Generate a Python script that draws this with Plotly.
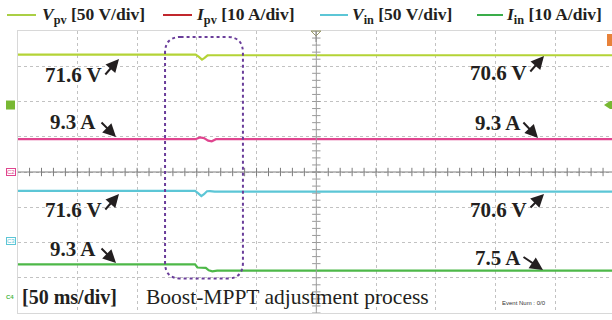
import numpy as np
import plotly.graph_objects as go

# ---------------- data (time in ms, physical values) ----------------
t_vpv = [0, 149, 151.5, 154.3, 156.5, 159, 161, 500]
v_pv = [71.6, 71.6, 68.5, 64.5, 67.0, 70.4, 70.6, 70.6]

t_ipv = [0, 149, 152.5, 156, 159.5, 162.5, 166, 500]
i_pv = [9.3, 9.3, 9.8, 9.6, 8.9, 8.7, 9.3, 9.3]

t_vin = [0, 148.5, 151, 153.8, 156, 158.5, 161, 165, 500]
v_in = [71.6, 71.6, 68.5, 64.3, 67.0, 71.2, 71.4, 70.6, 70.6]

t_iin = [0, 148.5, 150.5, 157.5, 160, 163, 167, 500]
i_in = [9.3, 9.3, 8.4, 8.3, 7.6, 7.3, 7.5, 7.5]

channel_names = ["V<sub>pv</sub>", "I<sub>pv</sub>", "V<sub>in</sub>", "I<sub>in</sub>"]
channel_units = ["[50 V/div]", "[10 A/div]", "[50 V/div]", "[10 A/div]"]
channel_scale = [50, 10, 50, 10]
channel_ground = [1.9, 0.0, -1.97, -3.55]          # divisions

label_texts = ["71.6 V", "9.3 A", "71.6 V", "9.3 A", "70.6 V", "9.3 A", "70.6 V", "7.5 A"]
time_label = "[50 ms/div]"
process_label = "Boost-MPPT adjustment process"

# ---------------- geometry / style ----------------
W, H = 612, 320
X0, DIVX = 17.6, 59.74
Y_TOP, Y_BOT = 31, 313
x_end = (W - X0) / DIVX * 50

trace_colors = ["#b4d336", "#e0458f", "#5cc6d6", "#4db848"]
legend_colors = ["#aacf45", "#c1272d", "#5cc6d6", "#3aad4a"]
SERIF = "Liberation Serif, Times New Roman, serif"


def px(x):
    return x / W


def py(y):
    return 1 - y / H


fig = go.Figure()

# ticks on center cross
tx = np.arange(0, x_end, 10)
fig.add_trace(go.Scatter(x=tx, y=[0] * len(tx), mode="markers", hoverinfo="skip",
                         marker=dict(symbol="line-ns", size=6, line=dict(width=1, color="#7c7c7c"))))
ty = np.arange(-4, 4.001, 0.2)
fig.add_trace(go.Scatter(x=[250] * len(ty), y=ty, mode="markers", hoverinfo="skip",
                         marker=dict(symbol="line-ew", size=6, line=dict(width=1, color="#9a9a9a"))))

series = [(t_vpv, v_pv), (t_ipv, i_pv), (t_vin, v_in), (t_iin, i_in)]
for k, (tt, vv) in enumerate(series):
    yy = [channel_ground[k] + v / channel_scale[k] for v in vv]
    fig.add_trace(go.Scatter(x=tt, y=yy, mode="lines", hoverinfo="skip",
                             line=dict(color=trace_colors[k], width=2.2)))

shapes = []
# center lines
shapes.append(dict(type="line", xref="x", yref="y", x0=0, x1=x_end, y0=0, y1=0,
                   line=dict(color="#7c7c7c", width=1)))
shapes.append(dict(type="line", xref="x", yref="y", x0=250, x1=250, y0=-4, y1=4,
                   line=dict(color="#a0a0a0", width=1)))

# dashed rounded box (process window)
bx0, bx1, by0, by1 = 123.4, 188.6, -3.02, 3.83
rx, ry = 13, 0.45
path = (f"M {bx0+rx},{by1} L {bx1-rx},{by1} Q {bx1},{by1} {bx1},{by1-ry} "
        f"L {bx1},{by0+ry} Q {bx1},{by0} {bx1-rx},{by0} L {bx0+rx},{by0} "
        f"Q {bx0},{by0} {bx0},{by0+ry} L {bx0},{by1-ry} Q {bx0},{by1} {bx0+rx},{by1} Z")
shapes.append(dict(type="path", xref="x", yref="y", path=path,
                   line=dict(color="#6a3d9a", width=2, dash="dot")))

# legend lines
legend_line_x = [(7, 36), (163, 192), (320, 348), (477, 503)]
legend_text_x = [40, 194, 350, 504]
for k in range(4):
    shapes.append(dict(type="line", xref="paper", yref="paper",
                       x0=px(legend_line_x[k][0]), x1=px(legend_line_x[k][1]),
                       y0=py(15), y1=py(15), line=dict(color=legend_colors[k], width=2)))

# trigger marker (top centre)
tm = 316
shapes.append(dict(type="path", xref="paper", yref="paper",
                   path=f"M {px(tm-5)},{py(31)} L {px(tm+5)},{py(31)} L {px(tm)},{py(36)} Z",
                   line=dict(color="#9a9a6a", width=1), fillcolor="rgba(0,0,0,0)"))
shapes.append(dict(type="line", xref="paper", yref="paper", x0=px(tm), x1=px(tm),
                   y0=py(31), y1=py(42), line=dict(color="#8a8a8a", width=1)))
# orange marker top right
shapes.append(dict(type="path", xref="paper", yref="paper",
                   path=f"M {px(607)},{py(34)} L {px(612)},{py(34)} L {px(612)},{py(46)} L {px(607)},{py(46)} Z",
                   line=dict(color="#e8823a", width=0), fillcolor="#e8823a"))
# green marker right (Vpv trigger level)
gy = 172 - channel_ground[0] * 35.25
shapes.append(dict(type="path", xref="paper", yref="paper",
                   path=f"M {px(604)},{py(gy)} L {px(610)},{py(gy-4)} L {px(612)},{py(gy-4)} L {px(612)},{py(gy+4)} L {px(610)},{py(gy+4)} Z",
                   line=dict(color="#78b833", width=0), fillcolor="#78b833"))
# green ground square left
shapes.append(dict(type="rect", xref="paper", yref="paper", x0=px(6), x1=px(15),
                   y0=py(gy - 4.5), y1=py(gy + 4.5), line=dict(color="#78b833", width=0),
                   fillcolor="#78b833"))

annotations = []
# legend texts
for k in range(4):
    nm = channel_names[k]
    annotations.append(dict(xref="paper", yref="paper", x=px(legend_text_x[k]), y=py(15),
                            xanchor="left", yanchor="middle", showarrow=False,
                            text=f"<b><i>{nm[0]}</i>{nm[1:]} {channel_units[k]}</b>",
                            font=dict(family=SERIF, size=17.5, color="#231f20")))

# channel ground markers
for k, lab in [(1, "C2"), (2, "C3")]:
    annotations.append(dict(xref="paper", yref="y", x=px(11), y=channel_ground[k],
                            xanchor="center", yanchor="middle", showarrow=False, text=lab,
                            font=dict(family="Liberation Sans", size=6, color=trace_colors[k]),
                            bordercolor=trace_colors[k], borderwidth=1, borderpad=0,
                            bgcolor="white"))
annotations.append(dict(xref="paper", yref="y", x=px(10), y=channel_ground[3],
                        xanchor="center", yanchor="middle", showarrow=False, text="<b>C4</b>",
                        font=dict(family="Liberation Sans", size=6, color=trace_colors[3])))

# value labels
label_pos = [(73, 75), (73, 122), (73, 210), (73, 249), (498, 73), (498, 123), (498, 210), (498, 258)]
for txt, (lx, ly) in zip(label_texts, label_pos):
    annotations.append(dict(xref="paper", yref="paper", x=px(lx), y=py(ly),
                            xanchor="center", yanchor="middle", showarrow=False,
                            text=f"<b>{txt}</b>",
                            font=dict(family=SERIF, size=21, color="#231f20")))

# arrows (tail -> head)
arrows = [((104, 76), (119, 59)), ((100, 121), (116, 137)), ((104, 211), (119, 194)),
          ((100, 247), (116, 263)), ((529, 73), (544, 56)), ((522, 121), (538, 138)),
          ((529, 209), (544, 194)), ((522, 256), (543, 270))]
for (tx0, ty0), (hx, hy) in arrows:
    annotations.append(dict(xref="paper", yref="paper", x=px(hx), y=py(hy),
                            ax=tx0 - hx, ay=ty0 - hy, text="", showarrow=True,
                            arrowhead=2, arrowsize=1.3, arrowwidth=2, arrowcolor="#231f20"))

annotations.append(dict(xref="paper", yref="paper", x=px(69), y=py(297),
                        xanchor="center", yanchor="middle", showarrow=False,
                        text=f"<b>{time_label}</b>",
                        font=dict(family=SERIF, size=20, color="#231f20")))
annotations.append(dict(xref="paper", yref="paper", x=px(287), y=py(297),
                        xanchor="center", yanchor="middle", showarrow=False,
                        text=process_label,
                        font=dict(family=SERIF, size=21.5, color="#231f20")))
annotations.append(dict(xref="paper", yref="paper", x=px(524), y=py(303),
                        xanchor="center", yanchor="middle", showarrow=False,
                        text="Event Num : 0/0",
                        font=dict(family="Liberation Sans", size=6, color="#333333")))

fig.update_layout(
    width=W, height=H, margin=dict(l=0, r=0, t=0, b=0),
    paper_bgcolor="white", plot_bgcolor="white", showlegend=False,
    shapes=shapes, annotations=annotations,
    xaxis=dict(domain=[px(X0), 1], range=[0, x_end], dtick=50, tick0=0,
               showgrid=True, griddash="dot", gridcolor="#c2c2c2", gridwidth=1,
               showticklabels=False, ticks="", zeroline=False,
               showline=True, linecolor="#d8d8d8", mirror=True),
    yaxis=dict(domain=[py(Y_BOT), py(Y_TOP)], range=[-4, 4], dtick=1,
               showgrid=True, griddash="dot", gridcolor="#c2c2c2", gridwidth=1,
               showticklabels=False, ticks="", zeroline=False,
               showline=True, linecolor="#d8d8d8", mirror=False),
)

fig.write_html("out.html")
